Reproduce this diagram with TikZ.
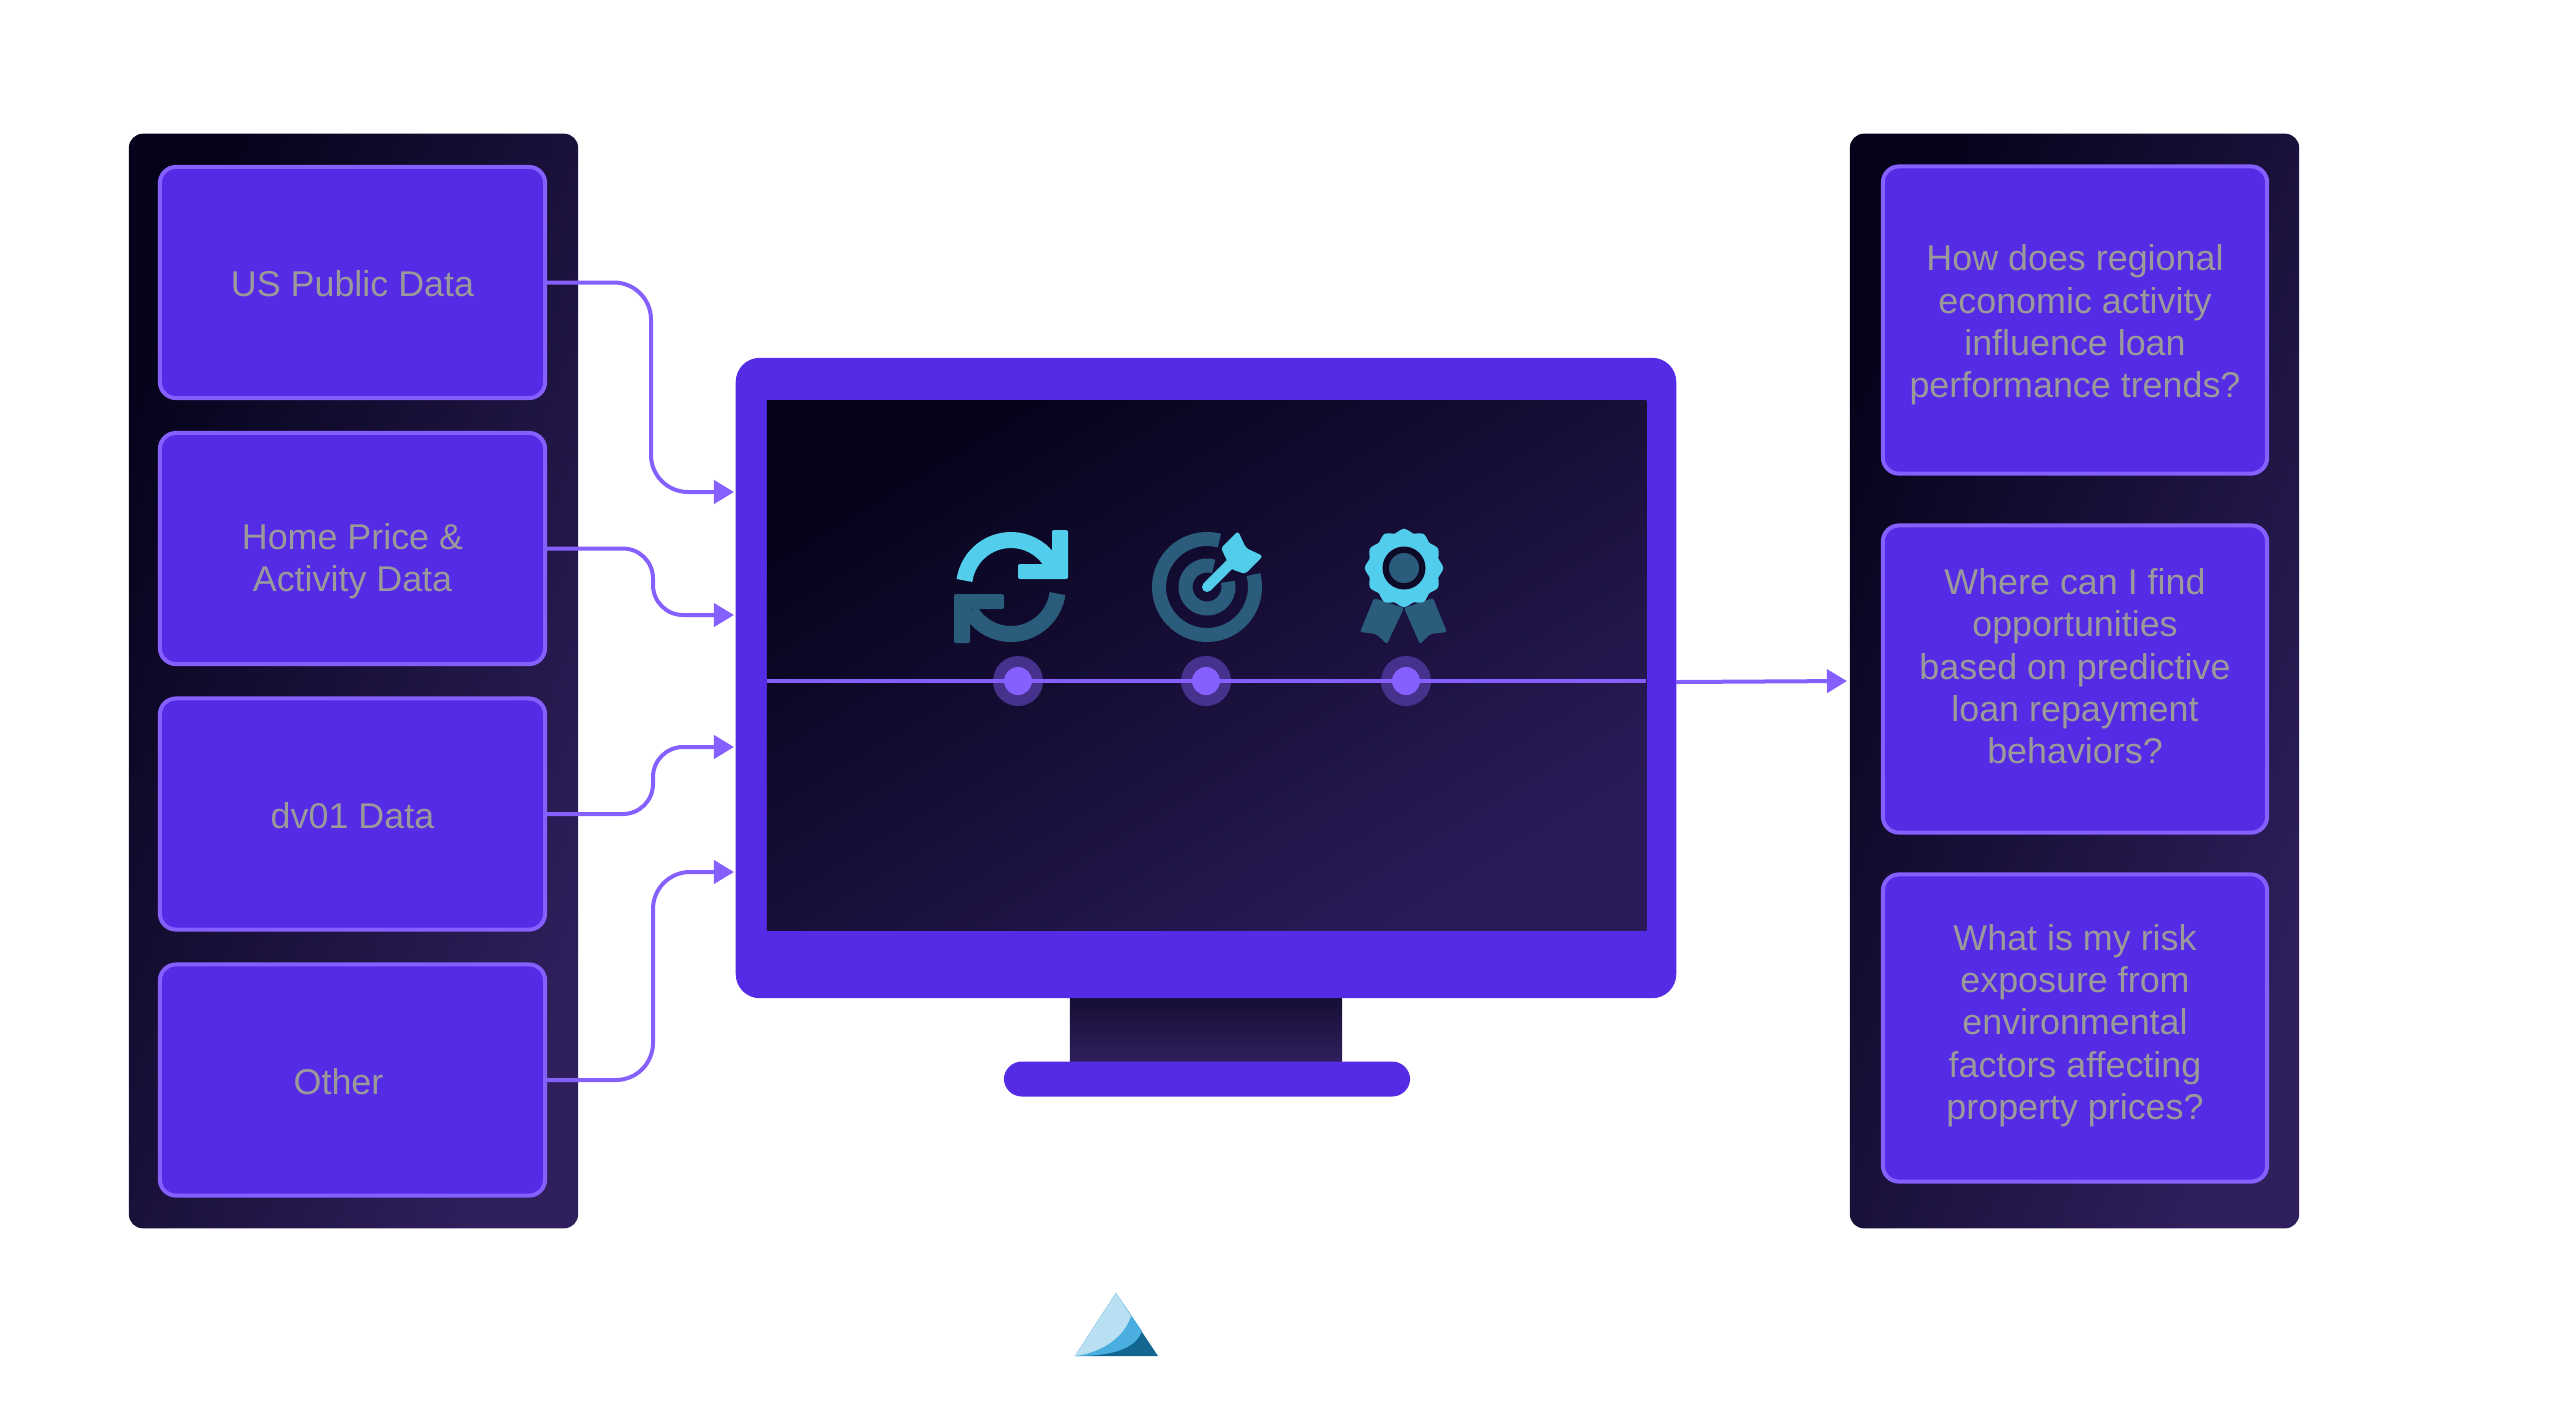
\documentclass[tikz,border=0pt]{standalone}
\usepackage{fontspec}
\setmainfont{Liberation Sans}
\usetikzlibrary{arrows.meta}
\definecolor{violet1}{HTML}{562BE6}
\definecolor{violet2}{HTML}{8560FF}
\definecolor{halo1}{HTML}{46318C}
\definecolor{night1}{HTML}{05031A}
\definecolor{night2}{HTML}{2F1F5C}
\definecolor{night3}{HTML}{2A1B58}
\definecolor{label1}{HTML}{9A9A9A}
\definecolor{icon1}{HTML}{52CDEC}
\definecolor{icon2}{HTML}{2B5C7C}
\definecolor{peak1}{HTML}{B8DFF2}
\definecolor{peak2}{HTML}{4AAEE0}
\definecolor{peak3}{HTML}{126690}

\begin{document}
\begin{tikzpicture}[x=0.01cm,y=-0.01cm]
    \tikzset{panel/.style = {shape=rectangle, rounded corners=0.14cm, minimum width=4.49cm, minimum height=10.94cm, left color=night1, right color=night2, shading angle=68}}
    \tikzset{card/.style = {shape=rectangle, rounded corners=0.16cm, draw=violet2, line width=0.04cm, fill=violet1, text=label1, align=center, font=\fontsize{10.2}{12}\selectfont}}
    \tikzset{cardleft/.style = {card, minimum width=3.85cm, minimum height=2.31cm}}
    \tikzset{cardright/.style = {card, minimum width=3.84cm, minimum height=3.07cm}}
    \tikzset{flow/.style = {draw=violet2, line width=0.04cm, -{Triangle[length=0.2cm,width=0.23cm]}}}
    \tikzset{halo/.style = {shape=circle, fill=halo1, minimum size=0.5cm, inner sep=0}}
    \tikzset{dot/.style = {shape=circle, fill=violet2, minimum size=0.28cm, inner sep=0}}
    \useasboundingbox (0,0) rectangle (2560,1420);

    % panels
    \node[panel] (leftpanel) at (353.5,681) {};
    \node[panel] (rightpanel) at (2074.5,681) {};

    % input cards
    \node[cardleft] (us) at (352.5,282.5) {\rule{0pt}{7.9pt}US Public Data};
    \node[cardleft] (home) at (352.5,548.5) {\rule{0pt}{14.4pt}Home Price \&\\Activity Data};
    \node[cardleft] (dv) at (352.5,814) {\rule{0pt}{8.5pt}dv01 Data};
    \node[cardleft] (other) at (352.5,1080) {\rule{0pt}{8.5pt}Other\hspace*{0.28cm}};

    % question cards
    \node[cardright] (regional) at (2075,320) {\rule{0pt}{10.2pt}How does regional\\economic activity\\influence loan\\performance trends?};
    \node[cardright] (repay) at (2075,679) {Where can I find\\opportunities\\based on predictive\\loan repayment\\behaviors?\rule[-7.3pt]{0pt}{1pt}};
    \node[cardright] (risk) at (2075,1028) {What is my risk\\exposure from\\environmental\\factors affecting\\property prices?\rule[-3.5pt]{0pt}{1pt}};

    % monitor
    \node[shape=rectangle, left color=night1!60!night2, right color=night2, shading angle=0, minimum width=2.72cm, minimum height=0.64cm, inner sep=0] (neck) at (1206,1030) {};
    \node[shape=rectangle, rounded corners=0.24cm, fill=violet1, minimum width=9.4cm, minimum height=6.4cm] (monitor) at (1206,678) {};
    \node[shape=rectangle, left color=night1, right color=night3, shading angle=31, minimum width=8.79cm, minimum height=5.29cm, inner sep=0] (screen) at (1206.5,665.5) {};
    \node[shape=rectangle, rounded corners=0.18cm, fill=violet1, minimum width=4.06cm, minimum height=0.35cm, inner sep=0] (stand) at (1207,1079) {};

    % timeline
    \coordinate (lineA) at (767,681);
    \coordinate (lineB) at (1646,681);
    \node[halo] (haloA) at (1018,681) {};
    \node[halo] (haloB) at (1206,681) {};
    \node[halo] (haloC) at (1406,681) {};
    \draw [violet2, line width=0.04cm] (lineA) -- (lineB);
    \node[dot] (dotA) at (haloA) {};
    \node[dot] (dotB) at (haloB) {};
    \node[dot] (dotC) at (haloC) {};

    % refresh icon
    \begin{scope}[shift={(1011,587)}]
        \draw [icon1, line width=0.16cm] (188:47) arc (188:330:47);
        \fill [icon1, rounded corners=0.02cm] (41,-57) -- (57,-57) -- (57,-8) -- (7,-8) -- (7,-23) -- (41,-23) -- cycle;
        \draw [icon2, line width=0.16cm] (8:47) arc (8:150:47);
        \fill [icon2, rounded corners=0.02cm] (-57,7) -- (-7,7) -- (-7,22) -- (-41,22) -- (-41,56) -- (-57,56) -- cycle;
    \end{scope}

    % target icon
    \begin{scope}[shift={(1207,587)}]
        \draw [icon2, line width=0.14cm] (-15:48) arc (-15:285:48);
        \draw [icon2, line width=0.14cm] (-14:21.5) arc (-14:288:21.5);
        \draw [icon1, line width=0.1cm, line cap=round] (0,0) -- (25,-25);
        \fill [icon1, rounded corners=0.03cm] (31,-56) -- (39,-39) -- (56,-31) -- (38,-13) -- (24,-18) -- (14,-39) -- cycle;
    \end{scope}

    % ribbon icon
    \begin{scope}[shift={(1404,568)}]
        \fill [icon2, rounded corners=0.02cm] (-30,30) -- (-44,64) -- (-28,66) -- (-17,76) -- (0,40) -- cycle;
        \fill [icon2, rounded corners=0.02cm] (29,30) -- (43,64) -- (26,66) -- (16,76) -- (0,40) -- cycle;
        \fill [icon1] plot [smooth cycle, samples=48, domain=0:352.5] (\x:{37.5+1.8*cos(12*\x)});
        \fill [night1!80!night2] (0,0) circle (21.5);
        \fill [icon2] (0,0) circle (15);
    \end{scope}

    % edges
    \coordinate (in1) at (734,492);
    \coordinate (in2) at (734,615);
    \coordinate (in3) at (734,747);
    \coordinate (in4) at (734,872);
    \coordinate (out1) at (1676,682);
    \coordinate (out2) at (1847,681);
    \coordinate (bendA) at (651,492);
    \coordinate (bendB) at (653,615);
    \coordinate (bendC) at (653,747);
    \coordinate (bendD) at (653,872);
    \draw [flow, rounded corners=0.37cm] (us.east) -| (bendA) -- (in1);
    \draw [flow, rounded corners=0.3cm] (home.east) -| (bendB) -- (in2);
    \draw [flow, rounded corners=0.3cm] (dv.east) -| (bendC) -- (in3);
    \draw [flow, rounded corners=0.37cm] (other.east) -| (bendD) -- (in4);
    \draw [flow] (out1) -- (out2);

    % logo
    \fill [peak3] (1116,1293) -- (1158,1356) -- (1075,1356) -- cycle;
    \fill [peak2] (1116,1293) -- (1142,1331) .. controls (1135,1350) and (1110,1356) .. (1075,1356) -- cycle;
    \fill [peak1] (1116,1293) -- (1131,1316) .. controls (1125,1335) and (1105,1352) .. (1075,1356) -- cycle;
\end{tikzpicture}
\end{document}
